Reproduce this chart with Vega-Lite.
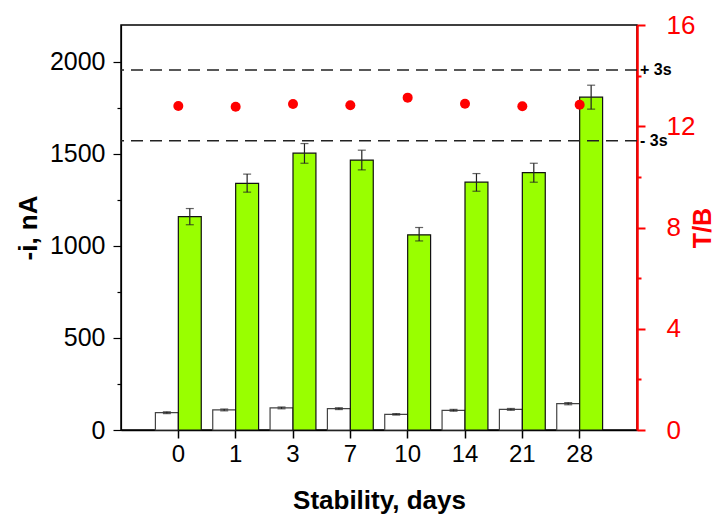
{
  "$schema": "https://vega.github.io/schema/vega-lite/v6.json",
  "width": 516,
  "height": 405,
  "autosize": {"type": "none"},
  "padding": {"left": 121, "top": 25, "right": 79, "bottom": 84},
  "background": "white",
  "config": {
    "font": "Liberation Sans",
    "view": {"stroke": "black", "strokeWidth": 1.5},
    "axis": {"grid": false}
  },
  "datasets": {
    "bars": [
      {"day": 0, "series": "blank", "value": 94, "lo": 89, "hi": 99},
      {"day": 0, "series": "target", "value": 1159, "lo": 1115, "hi": 1203},
      {"day": 1, "series": "blank", "value": 109, "lo": 104, "hi": 114},
      {"day": 1, "series": "target", "value": 1340, "lo": 1292, "hi": 1390},
      {"day": 3, "series": "blank", "value": 120, "lo": 115, "hi": 125},
      {"day": 3, "series": "target", "value": 1504, "lo": 1449, "hi": 1556},
      {"day": 7, "series": "blank", "value": 116, "lo": 111, "hi": 121},
      {"day": 7, "series": "target", "value": 1466, "lo": 1413, "hi": 1520},
      {"day": 10, "series": "blank", "value": 85, "lo": 81, "hi": 89},
      {"day": 10, "series": "target", "value": 1060, "lo": 1027, "hi": 1100},
      {"day": 14, "series": "blank", "value": 107, "lo": 102, "hi": 112},
      {"day": 14, "series": "target", "value": 1346, "lo": 1297, "hi": 1393},
      {"day": 21, "series": "blank", "value": 112, "lo": 107, "hi": 117},
      {"day": 21, "series": "target", "value": 1398, "lo": 1346, "hi": 1449},
      {"day": 28, "series": "blank", "value": 143, "lo": 137, "hi": 149},
      {"day": 28, "series": "target", "value": 1808, "lo": 1743, "hi": 1873}
    ],
    "ratio": [
      {"day": 0, "tb": 12.80},
      {"day": 1, "tb": 12.77},
      {"day": 3, "tb": 12.88},
      {"day": 7, "tb": 12.83},
      {"day": 10, "tb": 13.13},
      {"day": 14, "tb": 12.89},
      {"day": 21, "tb": 12.79},
      {"day": 28, "tb": 12.85}
    ],
    "limits": [
      {"label": "+ 3s", "tb": 14.22},
      {"label": "- 3s", "tb": 11.43}
    ]
  },
  "layer": [
    {
      "data": {"name": "bars"},
      "encoding": {
        "x": {
          "field": "day",
          "type": "ordinal",
          "scale": {"paddingInner": 0.2, "paddingOuter": 0.6},
          "axis": {
            "title": "Stability, days",
            "titleFontSize": 26,
            "titleFontWeight": "bold",
            "titleColor": "black",
            "titlePadding": 21,
            "labelAngle": 0,
            "labelFontSize": 24,
            "labelColor": "black",
            "labelPadding": 4,
            "tickSize": 8,
            "tickWidth": 1.5,
            "tickColor": "black",
            "domainColor": "black",
            "domainWidth": 1.5
          }
        },
        "xOffset": {
          "field": "series",
          "type": "nominal",
          "scale": {"domain": ["blank", "target"], "paddingInner": 0, "paddingOuter": 0}
        }
      },
      "layer": [
        {
          "mark": {"type": "bar", "strokeWidth": 1.2},
          "encoding": {
            "y": {
              "field": "value",
              "type": "quantitative",
              "scale": {"domain": [0, 2200], "nice": false},
              "axis": {
                "title": "-i, nA",
                "titleFontSize": 26,
                "titleFontWeight": "bold",
                "titleColor": "black",
                "titlePadding": 8,
                "values": [0, 250, 500, 750, 1000, 1250, 1500, 1750, 2000],
                "labelExpr": "datum.value % 500 === 0 ? datum.label : ''",
                "format": "d",
                "labelFontSize": 25,
                "labelColor": "black",
                "labelPadding": 8,
                "tickSize": {"condition": {"test": "datum.value % 500 === 0", "value": 8}, "value": 4},
                "tickWidth": 1.2,
                "tickColor": "black",
                "domainColor": "black",
                "domainWidth": 1.2
              }
            },
            "fill": {
              "field": "series",
              "type": "nominal",
              "scale": {"domain": ["blank", "target"], "range": ["white", "#99ff00"]},
              "legend": null
            },
            "stroke": {
              "field": "series",
              "type": "nominal",
              "scale": {"domain": ["blank", "target"], "range": ["#444444", "#111111"]},
              "legend": null
            }
          }
        },
        {
          "mark": {"type": "rule", "color": "#222222", "strokeWidth": 1.2},
          "encoding": {
            "y": {"field": "lo", "type": "quantitative"},
            "y2": {"field": "hi"}
          }
        },
        {
          "mark": {"type": "tick", "color": "#222222", "size": 8, "thickness": 1.2},
          "encoding": {
            "y": {"field": "lo", "type": "quantitative"}
          }
        },
        {
          "mark": {"type": "tick", "color": "#222222", "size": 8, "thickness": 1.2},
          "encoding": {
            "y": {"field": "hi", "type": "quantitative"}
          }
        }
      ]
    },
    {
      "layer": [
        {
          "data": {"name": "limits"},
          "mark": {"type": "rule", "color": "#222222", "strokeWidth": 1.5, "strokeDash": [12, 7]},
          "encoding": {
            "y": {
              "field": "tb",
              "type": "quantitative",
              "scale": {"domain": [0, 16], "nice": false},
              "axis": {
                "orient": "right",
                "title": "T/B",
                "titleAngle": 270,
                "titleFontSize": 25,
                "titleFontWeight": "bold",
                "titleColor": "#ff0000",
                "titlePadding": 21,
                "values": [0, 2, 4, 6, 8, 10, 12, 14, 16],
                "labelExpr": "datum.value % 4 === 0 ? datum.label : ''",
                "labelFontSize": 26,
                "labelColor": "#ff0000",
                "labelPadding": 21,
                "tickSize": {"condition": {"test": "datum.value % 4 === 0", "value": 8}, "value": 4},
                "tickWidth": 2,
                "tickColor": "#ff0000",
                "domainColor": "#ff0000",
                "domainWidth": 2.5
              }
            }
          }
        },
        {
          "data": {"name": "limits"},
          "mark": {"type": "text", "align": "left", "baseline": "middle", "dx": 3, "fontSize": 16, "fontWeight": "bold", "color": "black"},
          "encoding": {
            "x": {"value": "width"},
            "y": {"field": "tb", "type": "quantitative"},
            "text": {"field": "label"}
          }
        },
        {
          "data": {"name": "ratio"},
          "mark": {"type": "point", "filled": true, "opacity": 1, "color": "#ff0000", "size": 100},
          "encoding": {
            "x": {"field": "day", "type": "ordinal"},
            "y": {"field": "tb", "type": "quantitative"}
          }
        }
      ]
    }
  ],
  "resolve": {"scale": {"y": "independent"}, "axis": {"y": "independent"}}
}
